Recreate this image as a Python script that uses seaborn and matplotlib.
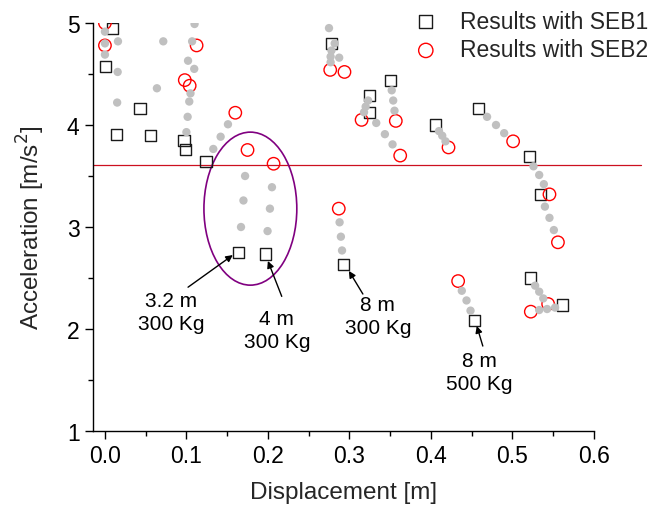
import matplotlib
matplotlib.use("Agg")
import matplotlib.pyplot as plt
import seaborn as sns
from matplotlib.patches import Ellipse

# ---------------- data ----------------
seb1_x = [0.001, 0.009, 0.014, 0.043, 0.056, 0.097, 0.099, 0.124, 0.164, 0.197,
          0.278, 0.325, 0.325, 0.350, 0.406, 0.458, 0.521, 0.535, 0.522, 0.562,
          0.293, 0.454]
seb1_y = [4.57, 4.95, 3.91, 4.16, 3.90, 3.85, 3.76, 3.64, 2.75, 2.735,
          4.80, 4.29, 4.12, 4.44, 4.00, 4.16, 3.69, 3.32, 2.50, 2.235,
          2.63, 2.08]

seb2_x = [0.0, 0.0, 0.1125, 0.098, 0.104, 0.160, 0.175, 0.207, 0.2765, 0.294,
          0.315, 0.3624, 0.357, 0.4217, 0.501, 0.5456, 0.556, 0.287, 0.4335,
          0.544, 0.5227]
seb2_y = [5.00, 4.78, 4.78, 4.44, 4.385, 4.12, 3.755, 3.62, 4.54, 4.52,
          4.05, 3.70, 4.04, 3.78, 3.84, 3.32, 2.85, 3.18, 2.47,
          2.245, 2.17]

sim_x = [0.0, 0.0, 0.0, 0.016, 0.0156, 0.015, 0.0716, 0.0638,
         0.110, 0.107, 0.102, 0.1096, 0.105, 0.1035, 0.1015, 0.100,
         0.133, 0.142, 0.151,
         0.172, 0.170, 0.167, 0.205, 0.2025, 0.1996,
         0.275, 0.282, 0.278, 0.277, 0.277, 0.2875,
         0.323, 0.320, 0.318, 0.333, 0.3436, 0.353,
         0.352, 0.3538, 0.3554,
         0.410, 0.414, 0.418,
         0.469, 0.480, 0.490,
         0.526, 0.533, 0.5387, 0.540, 0.5456, 0.551,
         0.288, 0.2896, 0.291,
         0.438, 0.4438, 0.4487,
         0.528, 0.533, 0.538, 0.5525, 0.5427, 0.533]
sim_y = [4.915, 4.80, 4.69, 4.82, 4.52, 4.22, 4.82, 4.36,
         4.99, 4.82, 4.63, 4.55, 4.31, 4.23, 4.08, 3.93,
         3.765, 3.885, 4.007,
         3.50, 3.26, 3.00, 3.39, 3.18, 2.96,
         4.95, 4.80, 4.73, 4.67, 4.615, 4.66,
         4.24, 4.18, 4.125, 4.02, 3.91, 3.81,
         4.34, 4.24, 4.14,
         3.94, 3.895, 3.84,
         4.08, 4.00, 3.92,
         3.595, 3.51, 3.42, 3.20, 3.09, 2.97,
         3.046, 2.905, 2.77,
         2.375, 2.28, 2.18,
         2.425, 2.366, 2.30, 2.21, 2.196, 2.186]

threshold = 3.61

labels_text = ["3.2 m\n300 Kg", "4 m\n300 Kg", "8 m\n300 Kg", "8 m\n500 Kg"]
label_pos = [(0.081, 2.167), (0.211, 1.99), (0.335, 2.13), (0.460, 1.578)]
arrow_tail = [(0.102, 2.41), (0.217, 2.32), (0.3166, 2.343), (0.4638, 1.833)]
arrow_head = [(0.157, 2.725), (0.200, 2.667), (0.2994, 2.57), (0.4564, 2.03)]

# ---------------- plot ----------------
sns.set_theme(style="ticks")
plt.rcParams['font.family'] = ['Liberation Sans', 'DejaVu Sans']

fig = plt.figure(figsize=(6.68, 5.06), dpi=100)
ax = fig.add_axes([0.1388, 0.1462, 0.8889 - 0.1388, 0.9526 - 0.1462])

sns.scatterplot(x=seb1_x, y=seb1_y, ax=ax, marker='s', s=64,
                facecolor='none', edgecolor='#1a1a1a', linewidth=1.0,
                label='Results with SEB1', zorder=3)
sns.scatterplot(x=seb2_x, y=seb2_y, ax=ax, marker='o', s=80,
                facecolor='none', edgecolor='red', linewidth=1.0,
                label='Results with SEB2', zorder=3)
sns.scatterplot(x=sim_x, y=sim_y, ax=ax, marker='o', s=36,
                color='#c0c0c0', edgecolor='none', linewidth=0, zorder=4)

ax.plot([-0.015, 0.658], [threshold, threshold], color='#cc1020', lw=0.9,
        clip_on=False, zorder=2)

ax.add_patch(Ellipse((0.1785, 3.18), 0.114, 1.5, fill=False,
                     edgecolor='#800080', lw=1.2, zorder=2))

for t, p in zip(labels_text, label_pos):
    ax.text(p[0], p[1], t, ha='center', va='center', fontsize=15,
            linespacing=1.3, color='black')
for a, b in zip(arrow_tail, arrow_head):
    ax.annotate('', xy=b, xytext=a,
                arrowprops=dict(arrowstyle='-|>', color='black', lw=1.0,
                                mutation_scale=10, shrinkA=0, shrinkB=0))

ax.set_xlim(-0.015, 0.6)
ax.set_ylim(1, 5)
ax.set_xticks([0.0, 0.1, 0.2, 0.3, 0.4, 0.5, 0.6])
ax.set_xticklabels(['0.0', '0.1', '0.2', '0.3', '0.4', '0.5', '0.6'])
ax.set_yticks([1, 2, 3, 4, 5])
ax.set_xticks([0.05, 0.15, 0.25, 0.35, 0.45, 0.55], minor=True)
ax.set_yticks([1.5, 2.5, 3.5, 4.5], minor=True)
ax.tick_params(axis='both', which='major', direction='out', length=6,
               width=1, labelsize=16.5, color='black', labelcolor='black')
ax.tick_params(axis='both', which='minor', direction='out', length=3.5,
               width=1, color='black')
for s in ['top', 'right']:
    ax.spines[s].set_visible(False)
for s in ['left', 'bottom']:
    ax.spines[s].set_linewidth(1.0)
    ax.spines[s].set_color('black')

ax.set_xlabel('Displacement [m]', fontsize=17.5, labelpad=10)
ax.set_ylabel('Acceleration [m/s$^2$]', fontsize=17.5, labelpad=14)

ax.legend(loc='upper left', bbox_to_anchor=(0.619, 1.055), frameon=False,
          fontsize=16.5, handletextpad=0.9, labelspacing=0.25,
          borderaxespad=0, handlelength=1.2, markerscale=1.15)

fig.savefig('out.png', dpi=100)
